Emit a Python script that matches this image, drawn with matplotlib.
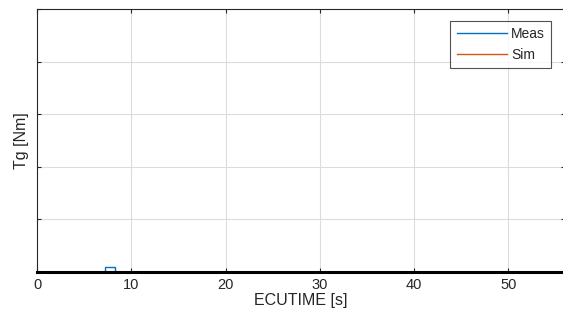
import matplotlib
matplotlib.use("Agg")
import matplotlib.pyplot as plt

# measured / simulated torque samples
meas_time = [7.74]
meas_tg = [0.0]
sim_time = []
sim_tg = []

x_ticks = [0, 10, 20, 30, 40, 50]
y_ticks = [0, 1, 2, 3, 4, 5]

plt.rcParams['font.family'] = ['Liberation Sans', 'DejaVu Sans']

fig = plt.figure(figsize=(5.63, 3.26), dpi=100)
ax = fig.add_axes([37 / 563, 54 / 326, 528 / 563, 263 / 326])

ax.plot(meas_time, meas_tg, color='#0072BD', lw=1, label='Meas')
ax.plot(sim_time, sim_tg, color='#D95319', lw=1, label='Sim')
# single logged sample sitting on the axis
ax.plot(meas_time, meas_tg, ls='none', marker='s', ms=7.5, mfc='none',
        mec='#0072BD', mew=1, zorder=1)

ax.set_xlim(0, 56)
ax.set_ylim(0, 5)
ax.set_xticks(x_ticks)
ax.set_yticks(y_ticks)
ax.set_yticklabels([])
ax.tick_params(direction='in', length=3, width=0.8, top=True, right=True,
               colors='#262626', labelsize=10.5, pad=4)
ax.grid(True, color='#dcdcdc', lw=0.8)
ax.set_axisbelow(True)
for s in ax.spines.values():
    s.set_color('#262626')
    s.set_linewidth(0.8)
ax.spines['bottom'].set_linewidth(2.2)
ax.spines['bottom'].set_color('black')

ax.set_xlabel('ECUTIME [s]', fontsize=11.5, color='#262626', labelpad=1)
ax.set_ylabel('Tg [Nm]', fontsize=11.5, color='#262626')
ax.yaxis.set_label_coords(-8 / 528, 0.5)

leg = ax.legend(loc='upper right', bbox_to_anchor=((551 - 37) / 528, (272 - 21) / 263),
                bbox_transform=ax.transAxes, fontsize=10, frameon=True, fancybox=False,
                edgecolor='#262626', handlelength=3.6, handletextpad=0.3,
                borderpad=0.45, labelspacing=0.5, borderaxespad=0, labelcolor='#262626')
leg.get_frame().set_linewidth(0.8)

fig.savefig('out.png', dpi=100)
